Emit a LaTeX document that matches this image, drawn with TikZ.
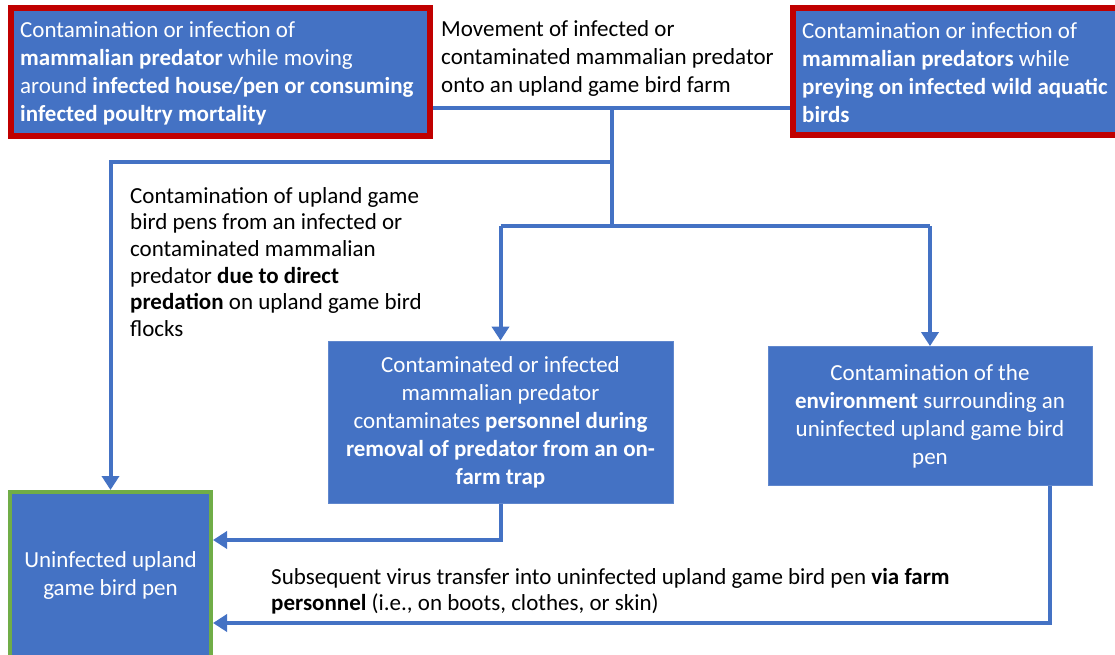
\documentclass[tikz,border=0pt]{standalone}
\usepackage{fontspec}
\setmainfont{Carlito}
\usetikzlibrary{arrows.meta}
\definecolor{ob}{HTML}{4472C4}
\definecolor{rb}{HTML}{C00000}
\definecolor{gb}{HTML}{70AD47}
\pgfdeclarelayer{bg}
\pgfsetlayers{bg,main}
\tikzset{
  boxbase/.style={rectangle, fill=ob, text=white, font=\fontsize{23}{28}\selectfont, inner sep=0pt},
  redbox/.style={boxbase, draw=rb, line width=6pt},
  bluebox/.style={boxbase, draw=ob!85!white, line width=0.8pt, align=center},
  greenbox/.style={boxbase, draw=gb, line width=4pt},
  plain/.style={inner sep=0pt, align=left, text=black, font=\fontsize{23}{28}\selectfont},
  boxtext/.style={plain, text=white, anchor=west},
  conn/.style={draw=ob, line width=4pt},
  arr/.style={conn, -{Triangle[length=14pt,width=17pt]}}
}
\begin{document}
\begin{tikzpicture}[x=1pt,y=-1pt]
\useasboundingbox (0,0) rectangle (1115,655);

\node[redbox, minimum width=419pt, minimum height=128pt] (tl) at (220.5,72) {};
\node[boxtext] (tlt) at (20,73)
  {Contamination or infection of\\ \textbf{mammalian predator} while moving\\ around \textbf{infected house/pen or consuming}\\ \textbf{infected poultry mortality}};
\node[redbox, minimum width=332pt, minimum height=127pt] (tr) at (959,71.5) {};
\node[boxtext] (trt) at (802,73)
  {Contamination or infection of\\ \textbf{mammalian predators} while\\ \textbf{preying on infected wild aquatic}\\ \textbf{birds}};
\node[plain, anchor=west] (mv) at (441,58)
  {Movement of infected or\\ contaminated mammalian predator\\ onto an upland game bird farm};
\node[plain, anchor=west, font=\fontsize{23}{26.7}\selectfont] (dp) at (130,262)
  {Contamination of upland game\\ bird pens from an infected or\\ contaminated mammalian\\ predator \textbf{due to direct}\\ \textbf{predation} on upland game bird\\ flocks};
\node[bluebox, minimum width=345pt, minimum height=162pt] (mid) at (500.5,422)
  {Contaminated or infected\\ mammalian predator\\ contaminates \textbf{personnel during}\\ \textbf{removal of predator from an on-}\\ \textbf{farm trap}};
\node[bluebox, minimum width=324pt, minimum height=139pt] (env) at (930,416)
  {Contamination of the\\ \textbf{environment} surrounding an\\ uninfected upland game bird\\ pen};
\node[greenbox, minimum width=201pt, minimum height=172pt] (pen) at (110.5,578) {};
\node[inner sep=0pt, align=center, text=white, font=\fontsize{23}{28}\selectfont] (pent) at (110.5,575)
  {Uninfected upland\\ game bird pen};
\node[plain, anchor=west, font=\fontsize{23}{26}\selectfont] (sub) at (271,591)
  {Subsequent virus transfer into uninfected upland game bird pen \textbf{via farm}\\ \textbf{personnel} (i.e., on boots, clothes, or skin)};

\coordinate (j1) at (612,108);
\coordinate (j2) at (612,162);
\coordinate (j3) at (612,226);

\begin{pgfonlayer}{bg}
\draw[conn] (tl.east |- j1) -- (tr.west |- j1);
\draw[conn] (j1) -- (j3);
\draw[arr] (j2) -| (pen.north);
\draw[conn] (mid.north |- j3) -- (env.north |- j3);
\draw[arr] (mid.north |- j3) -- (mid.north);
\draw[arr] (env.north |- j3) -- (env.north);
\draw[arr] (mid.south) |- ([yshift=38pt]pen.east);
\draw[arr] ([xshift=120pt]env.south) |- ([yshift=-45pt]pen.east);
\end{pgfonlayer}
\end{tikzpicture}
\end{document}
